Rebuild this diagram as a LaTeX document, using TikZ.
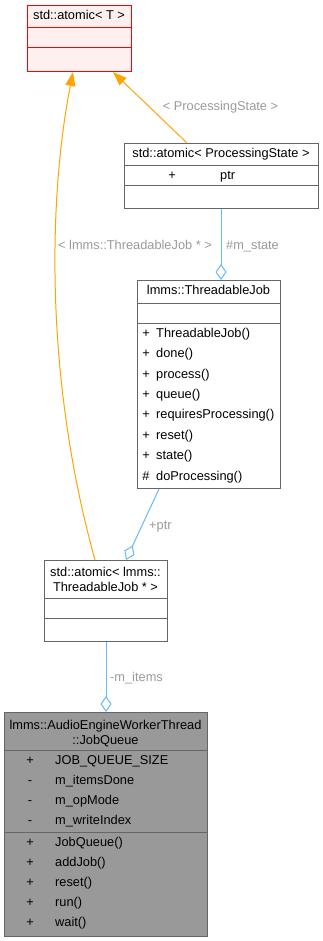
\documentclass[tikz,border=0pt]{standalone}
\usepackage{fontspec}
\setmainfont{Liberation Sans}
\usetikzlibrary{arrows.meta}
\definecolor{boxgray}{HTML}{666666}
\definecolor{lblgray}{HTML}{9A9A9A}
\definecolor{tmplorange}{HTML}{FFA500}
\definecolor{usageblue}{HTML}{63B8FF}
\definecolor{rootfill}{HTML}{FFF0F0}
\definecolor{focusfill}{HTML}{999999}
\newcommand{\umlfont}{\fontsize{12.8}{15}\selectfont}
\tikzset{
  classbox/.style={draw=boxgray, line width=1pt, fill=white, inner sep=0pt,
    anchor=north west},
  sepline/.style={draw=boxgray, line width=1pt},
  txt/.style={inner sep=0pt, font=\umlfont, text height=9.3pt, text depth=2.7pt},
  lbl/.style={txt, text=lblgray},
  tmpl/.style={draw=tmplorange, line width=1pt,
    -{Triangle[length=14pt,width=10pt,fill=tmplorange]}},
  usage/.style={draw=usageblue, line width=1pt,
    {Diamond[open,length=16pt,width=11pt]}-},
}
\begin{document}
\begin{tikzpicture}[x=1pt,y=-1pt]
\useasboundingbox (0,0) rectangle (322,941);

% std::atomic< T >
\node[classbox, draw=red, fill=rootfill, minimum width=104pt, minimum height=66pt] (tatomic) at (27,5) {};
\draw[sepline, draw=red] ([yshift=-23pt]tatomic.north west) -- ([yshift=-23pt]tatomic.north east);
\draw[sepline, draw=red] ([yshift=-43pt]tatomic.north west) -- ([yshift=-43pt]tatomic.north east);
\node[txt] (tatomicname) at (79,16.5) {std::atomic< T >};

% std::atomic< ProcessingState >
\node[classbox, minimum width=194pt, minimum height=65pt] (pstate) at (124,143) {};
\draw[sepline] ([yshift=-23pt]pstate.north west) -- ([yshift=-23pt]pstate.north east);
\draw[sepline] ([yshift=-43pt]pstate.north west) -- ([yshift=-43pt]pstate.north east);
\node[txt] (pstatename) at (221,154.5) {std::atomic< ProcessingState >};
\node[txt] (pstatevis) at (172,176) {+};
\node[txt, anchor=west] (pstateptr) at (220,176) {ptr};

% lmms::ThreadableJob
\node[classbox, minimum width=143pt, minimum height=208pt] (tjob) at (137,280) {};
\draw[sepline] ([yshift=-23pt]tjob.north west) -- ([yshift=-23pt]tjob.north east);
\draw[sepline] ([yshift=-43pt]tjob.north west) -- ([yshift=-43pt]tjob.north east);
\node[txt] (tjobname) at (208.5,291.5) {lmms::ThreadableJob};
\foreach \vis/\member [count=\i] in {+/ThreadableJob(), +/done(), +/process(), +/queue(),
    +/requiresProcessing(), +/reset(), +/state(), \#/doProcessing()} {
  \node[txt] (tjobvis\i) at (146,{334+20.4*(\i-1)}) {\vis};
  \node[txt, anchor=west] (tjobm\i) at (156,{334+20.4*(\i-1)}) {\member};
}

% std::atomic< lmms::ThreadableJob * >
\node[classbox, minimum width=123pt, minimum height=81pt] (tjobptr) at (44,560) {};
\draw[sepline] ([yshift=-38pt]tjobptr.north west) -- ([yshift=-38pt]tjobptr.north east);
\draw[sepline] ([yshift=-58pt]tjobptr.north west) -- ([yshift=-58pt]tjobptr.north east);
\node[txt] (tjobptrname1) at (105.5,573) {std::atomic< lmms::};
\node[txt] (tjobptrname2) at (105.5,588) {ThreadableJob * >};

% lmms::AudioEngineWorkerThread::JobQueue
\node[classbox, fill=focusfill, minimum width=203pt, minimum height=224pt] (jq) at (4,712) {};
\draw[sepline] ([yshift=-38pt]jq.north west) -- ([yshift=-38pt]jq.north east);
\draw[sepline] ([yshift=-120pt]jq.north west) -- ([yshift=-120pt]jq.north east);
\node[txt] (jqname1) at (105.5,726) {lmms::AudioEngineWorkerThread};
\node[txt] (jqname2) at (105.5,741) {::JobQueue};
\foreach \vis/\member [count=\i] in {+/JOB\_QUEUE\_SIZE, -/m\_itemsDone, -/m\_opMode, -/m\_writeIndex} {
  \node[txt] (jqavis\i) at (30,{761+20*(\i-1)}) {\vis};
  \node[txt, anchor=west] (jqa\i) at (55,{761+20*(\i-1)}) {\member};
}
\foreach \member [count=\i] in {JobQueue(), addJob(), reset(), run(), wait()} {
  \node[txt] (jqmvis\i) at (30,{843+20*(\i-1)}) {+};
  \node[txt, anchor=west] (jqm\i) at (55,{843+20*(\i-1)}) {\member};
}

% template instantiations
\draw[tmpl] ([xshift=51pt]tjobptr.north west) .. controls (45,380) and (48,200) .. ([xshift=46pt]tatomic.south west);
\draw[tmpl] ([xshift=63pt]pstate.north west) -- ([xshift=86pt]tatomic.south west);
\node[lbl] (lblpstate) at (220.5,107) {< ProcessingState >};
\node[lbl] (lbltjobptr) at (135,246) {< lmms::ThreadableJob * >};

% usage relations
\draw[usage] ([xshift=84pt]tjob.north west) -- ([xshift=97pt]pstate.south west);
\node[lbl, anchor=west] (lblmstate) at (226,246) {\#m\_state};
\draw[usage] ([xshift=82pt]tjobptr.north west) -- ([xshift=22pt]tjob.south west);
\node[lbl, anchor=west] (lblptr) at (149,526) {+ptr};
\draw[usage] ([xshift=102pt]jq.north west) -- ([xshift=62pt]tjobptr.south west);
\node[lbl, anchor=west] (lblitems) at (110,678) {-m\_items};
\end{tikzpicture}
\end{document}
